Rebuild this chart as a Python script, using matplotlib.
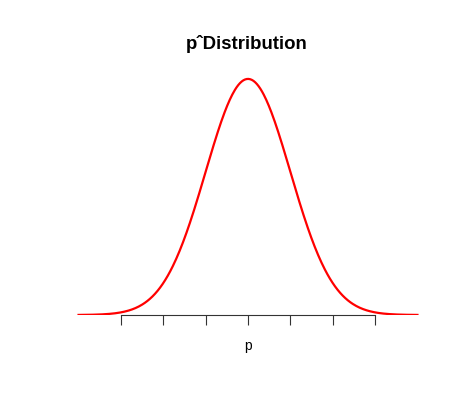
import numpy as np
import matplotlib.pyplot as plt

# standard normal curve, sd units
x_min, x_max = -4, 4
tick_pos = [-3, -2, -1, 0, 1, 2, 3]
mean, sd = 0.0, 1.0


def density(x):
    return np.exp(-0.5 * ((x - mean) / sd) ** 2) / (sd * np.sqrt(2 * np.pi))


def main():
    plt.rcParams['font.family'] = ['Liberation Sans', 'DejaVu Sans']

    fig = plt.figure(figsize=(4.58, 4.13), dpi=100)
    ax = fig.add_axes([65 / 458, 1 - 315 / 413, 366 / 458, 245 / 413])

    xs = np.linspace(x_min, x_max, 400)
    ax.plot(xs, density(xs), color="red", lw=1.6)

    ax.set_xlim(-4.32, 4.32)
    ax.set_ylim(0, 0.414)

    # only a bottom axis, like R's axis(1) with no labels
    for side in ["left", "right", "top"]:
        ax.spines[side].set_visible(False)
    ax.spines["bottom"].set_bounds(-3, 3)
    ax.spines["bottom"].set_color("#333333")
    ax.spines["bottom"].set_linewidth(0.8)
    ax.set_xticks(tick_pos)
    ax.set_xticklabels([])
    ax.tick_params(axis="x", direction="out", length=7.2, width=0.8, color="#333333")
    ax.set_yticks([])

    fig.text(248 / 458, 1 - 346 / 413, "p", ha="center", va="center", fontsize=10)
    fig.text(246.5 / 458, 1 - 44 / 413, "pˆDistribution", ha="center", va="center",
             fontsize=13.4, fontweight="bold")

    fig.savefig("out.png", dpi=100)


if __name__ == "__main__":
    main()
